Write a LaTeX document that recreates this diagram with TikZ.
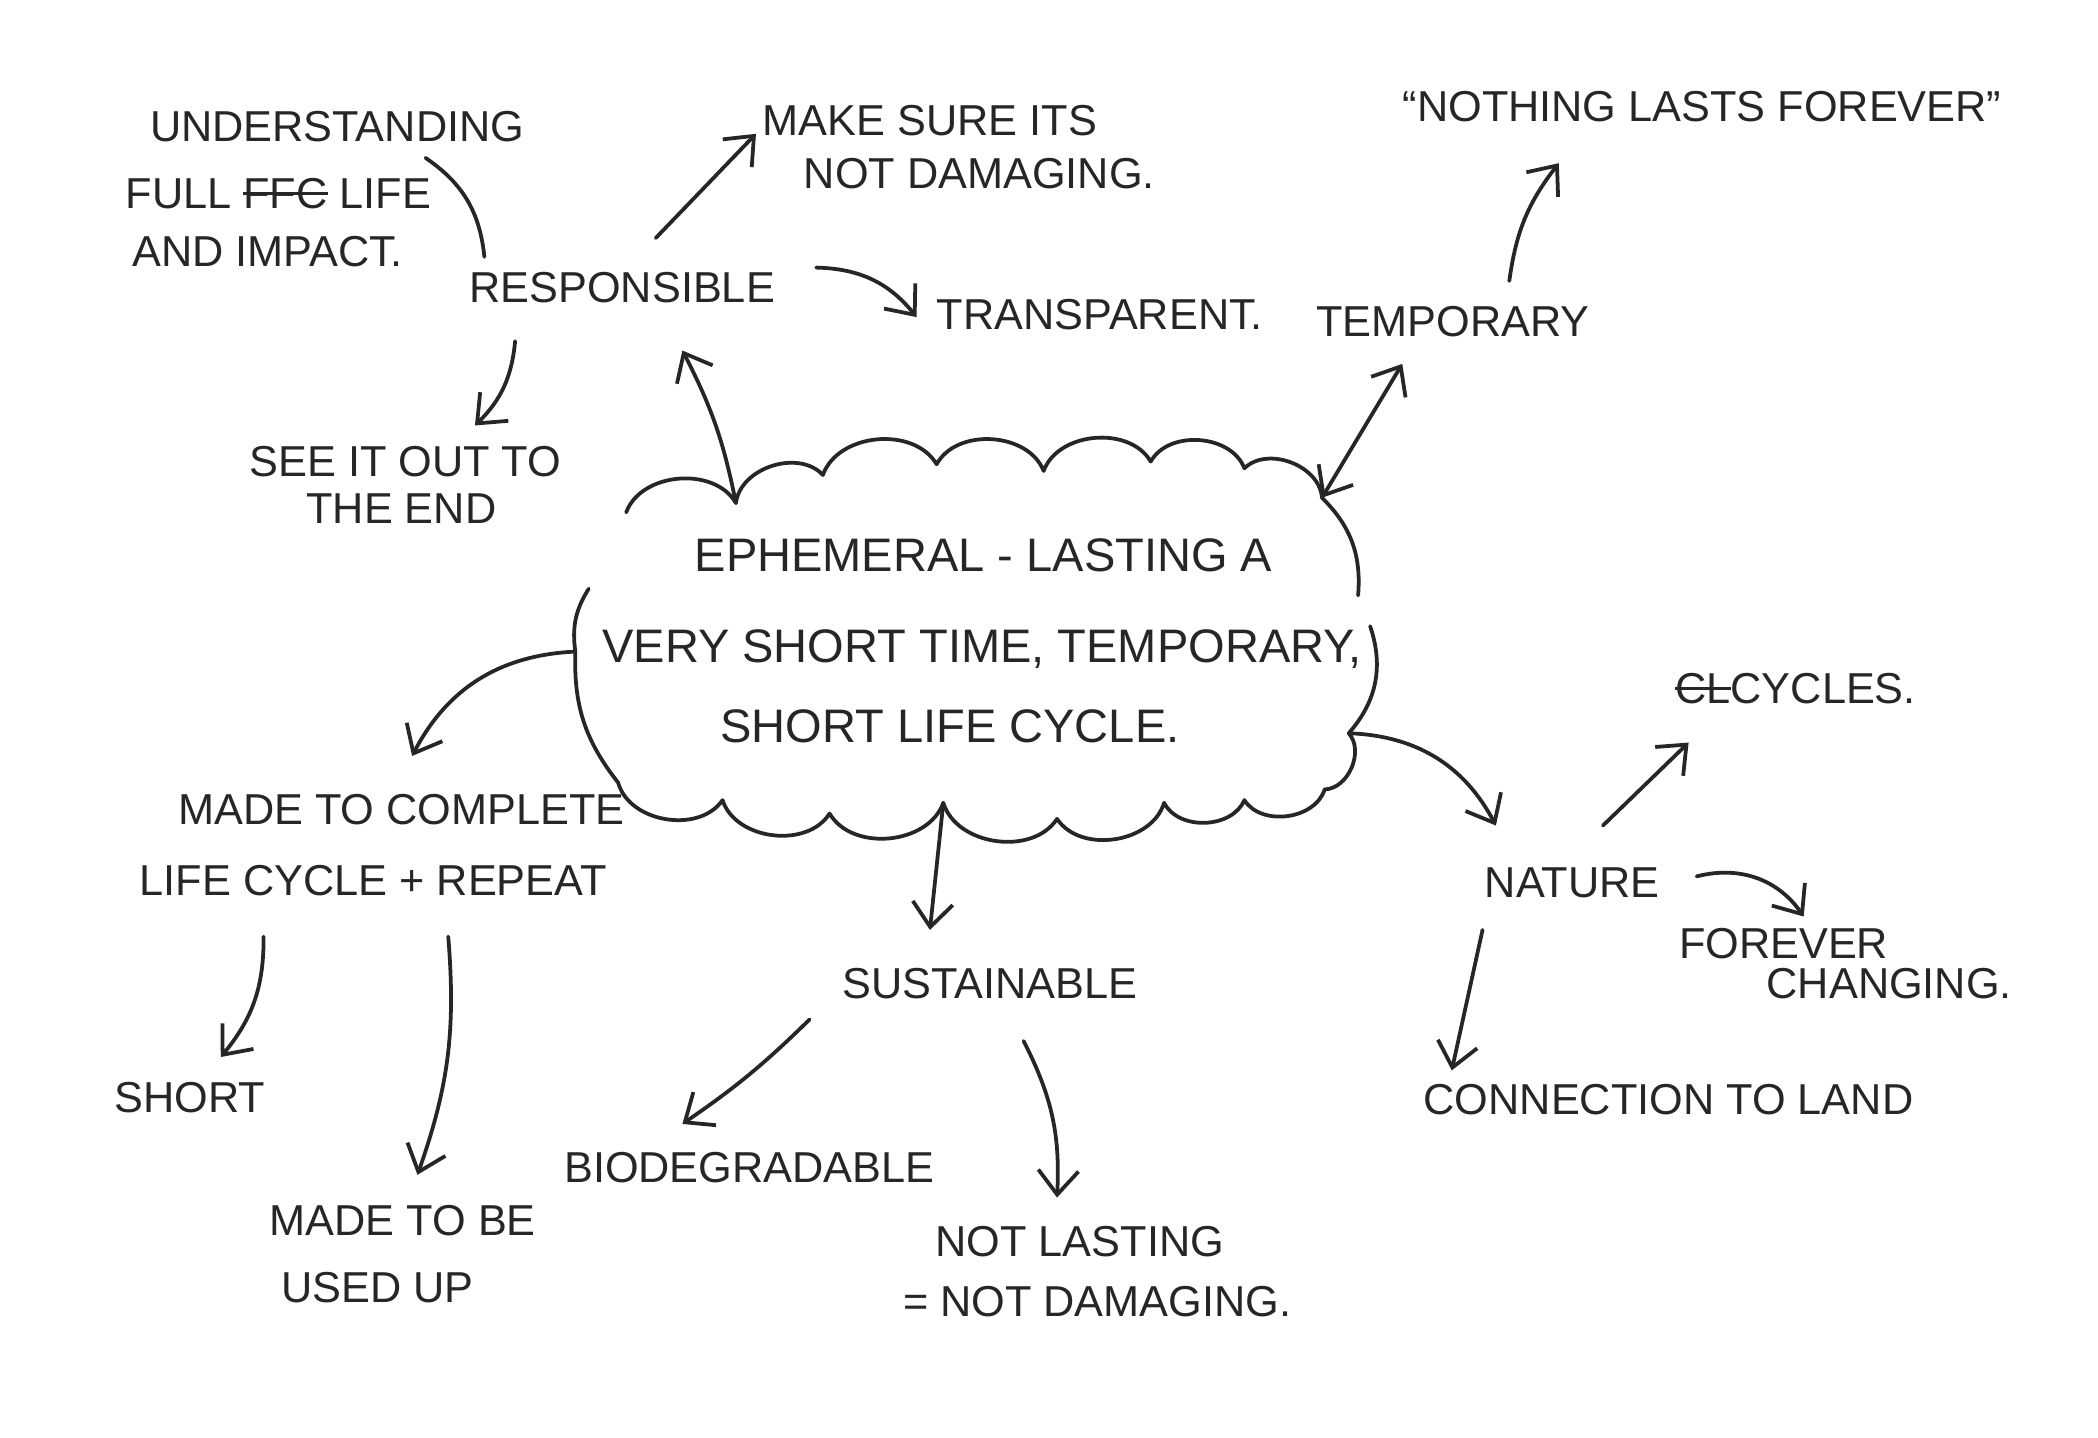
\documentclass[tikz,border=0pt]{standalone}
\usepackage{fontspec}
\setmainfont{Liberation Sans}
\usepackage{tikz}
\usetikzlibrary{arrows.meta, positioning}
\definecolor{ink}{HTML}{262626}
\newcommand\strk[1]{\setbox0\hbox{#1}\rlap{\rule[0.33em]{\wd0}{0.6pt}}\box0}

\begin{document}
\begin{tikzpicture}[
    note/.style={font=\fontsize{9.2}{11}\selectfont, text=ink, inner sep=1pt},
    big/.style={font=\fontsize{10}{12}\selectfont, text=ink, inner sep=1pt},
    pen/.style={draw=ink, line width=0.8pt, line cap=round, line join=round},
    arr/.style={pen, -{Straight Barb[length=1.8mm, width=3mm]}},
    biarr/.style={pen, {Straight Barb[length=1.8mm, width=3mm]}-{Straight Barb[length=1.8mm, width=3mm]}}
  ]
  % page: 1 unit = 100 px of the sketch
  \useasboundingbox (0,0) rectangle (15.68,10.74);
  \fill[white] (0,0) rectangle (15.68,10.74);

  % cloud round the central idea, drawn in pieces
  \draw[pen] (4.68,6.91) to[bend left=65] (5.50,6.98) to[bend left=65] (6.15,7.19)
    to[bend left=65] (7.00,7.27) to[bend left=65] (7.80,7.22) to[bend left=65] (8.60,7.29)
    to[bend left=65] (9.30,7.24) to[bend left=65] (9.88,7.02) to[bend left=25] (10.15,6.29);
  \draw[pen] (10.24,6.06) to[bend left=30] (10.08,5.26) to[bend left=65] (9.90,4.84)
    to[bend left=65] (9.30,4.76) to[bend left=65] (8.70,4.74) to[bend left=65] (7.90,4.62)
    to[bend left=65] (7.05,4.74) to[bend left=65] (6.20,4.66) to[bend left=65] (5.40,4.76)
    to[bend left=65] (4.62,4.89) to[bend left=20] (4.30,5.87) to[bend left=20] (4.40,6.34);
  \coordinate (cResp) at (5.50,6.98);
  \coordinate (cTemp) at (9.88,7.02);
  \coordinate (cLife) at (4.30,5.87);
  \coordinate (cSust) at (7.05,4.74);
  \coordinate (cNat) at (10.08,5.26);

  \node[big] (ephem1) at (7.35,6.59) {EPHEMERAL - LASTING A};
  \node[big] (ephem2) at (7.34,5.89) {VERY SHORT TIME, TEMPORARY,};
  \node[big] (ephem3) at (7.10,5.31) {SHORT LIFE CYCLE.};

  % responsible branch
  \node[note] (resp) at (4.65,8.59) {RESPONSIBLE};
  \node[note] (under1) at (2.52,9.79) {UNDERSTANDING};
  \node[note] (under2) at (2.08,9.29) {FULL \strk{FFC}\ LIFE};
  \node[note] (under3) at (2.00,8.86) {AND IMPACT.};
  \node[note] (make1) at (6.95,9.84) {MAKE SURE ITS};
  \node[note] (make2) at (7.32,9.44) {NOT DAMAGING.};
  \node[note] (transp) at (8.22,8.39) {TRANSPARENT.};
  \node[note] (seeit1) at (3.03,7.29) {SEE IT OUT TO};
  \node[note] (seeit2) at (3.00,6.94) {THE END};

  % temporary branch
  \node[note] (temp) at (10.86,8.34) {TEMPORARY};
  \node[note] (nothing) at (12.72,9.94) {``NOTHING LASTS FOREVER''};

  % life cycle branch
  \node[note] (complete1) at (3.00,4.69) {MADE TO COMPLETE};
  \node[note] (complete2) at (2.79,4.16) {LIFE CYCLE + REPEAT};
  \node[note] (short) at (1.42,2.54) {SHORT};
  \node[note] (usedup1) at (3.01,1.62) {MADE TO BE};
  \node[note] (usedup2) at (2.82,1.12) {USED UP};

  % sustainable branch
  \node[note] (sustain) at (7.40,3.39) {SUSTAINABLE};
  \node[note] (biodeg) at (5.60,2.01) {BIODEGRADABLE};
  \node[note] (notlast1) at (8.07,1.46) {NOT LASTING};
  \node[note] (notlast2) at (8.20,1.01) {= NOT DAMAGING.};

  % nature branch
  \node[note] (nature) at (11.75,4.14) {NATURE};
  \node[note] (cycles) at (13.42,5.59) {\strk{CL}CYCLES.};
  \node[note] (forever1) at (13.33,3.69) {FOREVER};
  \node[note] (forever2) at (14.12,3.39) {CHANGING.};
  \node[note] (land) at (12.47,2.52) {CONNECTION TO LAND};

  % connectors
  \draw[pen] ([shift={(-1.03,0.23)}]resp.center) to[bend right=25] ([shift={(1.10,0.27)}]under2.center);
  \draw[arr] ([shift={(0.25,0.37)}]resp.center) -- ([shift={(-1.30,-0.10)}]make1.center);
  \draw[arr] ([shift={(1.45,0.15)}]resp.center) to[bend left=25] ([shift={(-1.37,-0.02)}]transp.center);
  \draw[arr] ([shift={(-0.80,-0.40)}]resp.center) to[bend left=20] ([shift={(0.52,0.27)}]seeit1.center);
  \draw[arr] (cResp) to[bend right=8] ([shift={(0.45,-0.47)}]resp.center);
  \draw[biarr] (cTemp) -- ([shift={(-0.38,-0.32)}]temp.center);
  \draw[arr] ([shift={(0.42,0.30)}]temp.center) to[bend left=15] ([shift={(-1.07,-0.42)}]nothing.center);
  \draw[arr] (cLife) to[bend right=30] ([shift={(0.08,0.40)}]complete1.center);
  \draw[arr] ([shift={(-0.82,-0.42)}]complete2.center) to[bend left=20] ([shift={(0.23,0.30)}]short.center);
  \draw[arr] ([shift={(0.56,-0.42)}]complete2.center) to[bend left=12] ([shift={(0.11,0.34)}]usedup1.center);
  \draw[arr] (cSust) -- ([shift={(-0.45,0.40)}]sustain.center);
  \draw[arr] ([shift={(-1.35,-0.27)}]sustain.center) to[bend left=5] ([shift={(-0.50,0.33)}]biodeg.center);
  \draw[arr] ([shift={(0.25,-0.43)}]sustain.center) to[bend left=15] ([shift={(-0.17,0.33)}]notlast1.center);
  \draw[arr] (cNat) to[bend left=30] ([shift={(-0.57,0.43)}]nature.center);
  \draw[arr] ([shift={(0.23,0.43)}]nature.center) -- ([shift={(-0.80,-0.40)}]cycles.center);
  \draw[arr] ([shift={(0.93,0.05)}]nature.center) to[bend left=35] ([shift={(0.15,0.20)}]forever1.center);
  \draw[arr] ([shift={(-0.67,-0.35)}]nature.center) -- ([shift={(-1.62,0.22)}]land.center);
\end{tikzpicture}
\end{document}
